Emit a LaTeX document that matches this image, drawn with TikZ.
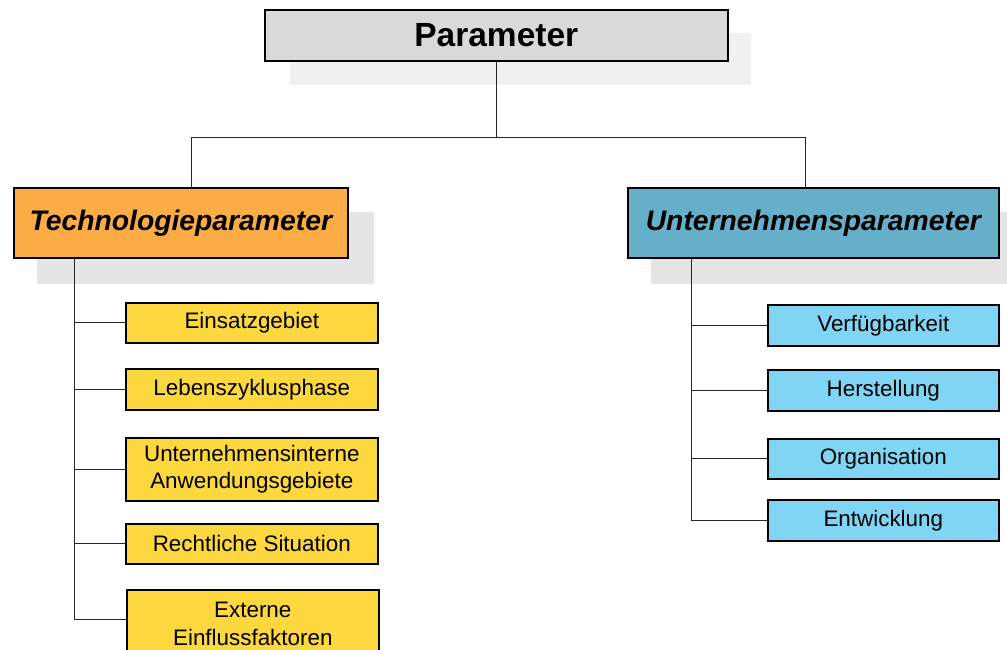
\documentclass[tikz,border=0pt]{standalone}
\usepackage{fontspec}
\setmainfont{Liberation Sans}
\pgfdeclarelayer{background}
\pgfsetlayers{background,main}
\definecolor{boxgray}{HTML}{D9D9D9}
\definecolor{techorange}{HTML}{FBAC44}
\definecolor{orgteal}{HTML}{66AFC8}
\definecolor{leafyellow}{HTML}{FDD73E}
\definecolor{leafblue}{HTML}{80D4F4}
\definecolor{shadelight}{HTML}{F0F0F0}
\definecolor{shadegray}{HTML}{E5E5E5}
\tikzset{
  box/.style={draw=black, line width=1.6pt, inner sep=0pt, anchor=north west, align=center},
  rootbox/.style={box, fill=boxgray, font=\fontsize{33.5}{38}\selectfont\bfseries},
  headbox/.style={box, font=\fontsize{28.3}{33}\selectfont\bfseries\itshape},
  leaf/.style={box, font=\fontsize{22.4}{27.5}\selectfont},
  yleaf/.style={leaf, fill=leafyellow, minimum width=252},
  bleaf/.style={leaf, fill=leafblue, minimum width=231},
  link/.style={draw=black!85, line width=0.9pt},
}
\begin{document}
\begin{tikzpicture}[x=1pt, y=-1pt]
\clip (0,0) rectangle (1007,649);

% root and the two parameter groups
\node[rootbox, minimum width=463, minimum height=51] (P) at (264,9) {Parameter};
\node[headbox, fill=techorange, minimum width=334, minimum height=70] (T) at (13,187) {Technologieparameter};
\node[headbox, fill=orgteal, minimum width=371, minimum height=70] (U) at (627,187) {Unternehmensparameter};

% white page and drop shadows behind the boxes
\begin{pgfonlayer}{background}
  \fill[white] (0,0) rectangle (1007,649);
  \fill[shadelight] ([shift={(26,24)}]P.north west) rectangle ([shift={(22,23)}]P.south east);
  \fill[shadegray] ([shift={(24,25)}]T.north west) rectangle ([shift={(25,25)}]T.south east);
  \fill[shadegray] ([shift={(24,25)}]U.north west) rectangle ([shift={(40,25)}]U.south east);
\end{pgfonlayer}

% technology parameters
\node[yleaf, minimum height=40] (t1) at (125,302) {Einsatzgebiet};
\node[yleaf, minimum height=41] (t2) at (125,368) {Lebenszyklusphase};
\node[yleaf, minimum height=63] (t3) at (125,437) {Unternehmensinterne\\Anwendungsgebiete};
\node[yleaf, minimum height=68] (t5) at (126,589) {Externe\\Einflussfaktoren};
\node[yleaf, minimum height=40] (t4) at (125,523) {Rechtliche Situation};

% company parameters
\node[bleaf, minimum height=41] (u1) at (767,304) {Verfügbarkeit};
\node[bleaf, minimum height=41] (u2) at (767,369) {Herstellung};
\node[bleaf, minimum height=40] (u3) at (767,438) {Organisation};
\node[bleaf, minimum height=41] (u4) at (767,499) {Entwicklung};

% tree connectors
\coordinate (split) at ([yshift=-76]P.south);
\draw[link] (P.south) -- (split);
\draw[link] (split) -| ([xshift=11]T.north);
\draw[link] (split) -| ([xshift=-8]U.north);

\coordinate (ttrunk) at ([xshift=61]T.south west);
\foreach \n in {t1,t2,t3,t4}
  \draw[link] (ttrunk) |- (\n.west);
\draw[link] (ttrunk) |- ([yshift=-30]t5.north west);

\coordinate (utrunk) at ([xshift=64]U.south west);
\foreach \n in {u1,u2,u3,u4}
  \draw[link] (utrunk) |- (\n.west);
\end{tikzpicture}
\end{document}
